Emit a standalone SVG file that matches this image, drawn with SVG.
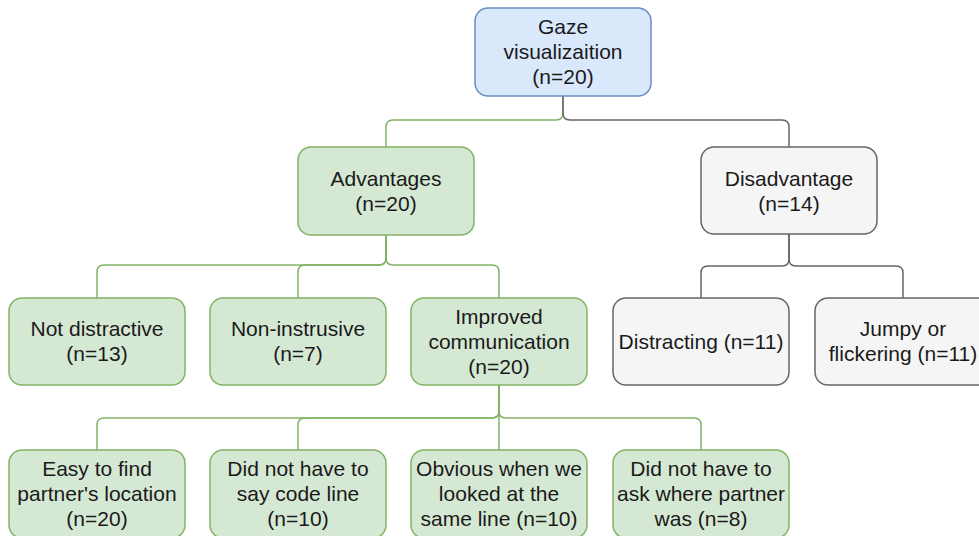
<svg xmlns="http://www.w3.org/2000/svg" width="979" height="536" viewBox="0 0 979 536">
  <style>
    .box { stroke-width: 1.5; }
    .blue { fill: #dae8fc; stroke: #6c8ebf; }
    .green { fill: #d5e8d4; stroke: #82b366; }
    .gray { fill: #f5f5f5; stroke: #666666; }
    .edge { fill: none; stroke-width: 1.5; }
    .eg { stroke: #82b366; }
    .ey { stroke: #666666; }
    text { font-family: "Liberation Sans", Arial, Helvetica, sans-serif; font-size: 21px; fill: #1a1a1a; text-anchor: middle; }
  </style>
  <rect width="979" height="536" fill="#ffffff"/>

  <!-- connectors -->
  <g id="connectors">
    <path class="edge eg" d="M563,96 V113 Q563,120 556,120 H393 Q386,120 386,127 V147"/>
    <path class="edge ey" d="M563,96 V113 Q563,120 570,120 H782 Q789,120 789,127 V147"/>
    <path class="edge eg" d="M386,235 V258 Q386,265 379,265 H104 Q97,265 97,272 V298"/>
    <path class="edge eg" d="M386,235 V258 Q386,265 379,265 H305 Q298,265 298,272 V298"/>
    <path class="edge eg" d="M386,235 V258 Q386,265 393,265 H492 Q499,265 499,272 V298"/>
    <path class="edge ey" d="M789,234 V259 Q789,266 782,266 H708 Q701,266 701,273 V298"/>
    <path class="edge ey" d="M789,234 V259 Q789,266 796,266 H896 Q903,266 903,273 V298"/>
    <path class="edge eg" d="M499,385 V411 Q499,418 492,418 H104 Q97,418 97,425 V450"/>
    <path class="edge eg" d="M499,385 V411 Q499,418 492,418 H305 Q298,418 298,425 V450"/>
    <path class="edge eg" d="M499,385 V450"/>
    <path class="edge eg" d="M499,385 V411 Q499,418 506,418 H694 Q701,418 701,425 V450"/>
  </g>

  <!-- root -->
  <g id="gaze">
    <rect class="box blue" x="475" y="8" width="176" height="88" rx="13"/>
    <text x="563" y="34">Gaze</text>
    <text x="563" y="59">visualizaition</text>
    <text x="563" y="84">(n=20)</text>
  </g>

  <!-- second level -->
  <g id="advantages">
    <rect class="box green" x="298" y="147" width="176" height="88" rx="13"/>
    <text x="386" y="186">Advantages</text>
    <text x="386" y="211">(n=20)</text>
  </g>
  <g id="disadvantage">
    <rect class="box gray" x="701" y="147" width="176" height="87" rx="13"/>
    <text x="789" y="186">Disadvantage</text>
    <text x="789" y="211">(n=14)</text>
  </g>

  <!-- third level -->
  <g id="not-distractive">
    <rect class="box green" x="9" y="298" width="176" height="87" rx="13"/>
    <text x="97" y="336">Not distractive</text>
    <text x="97" y="361">(n=13)</text>
  </g>
  <g id="non-intrusive">
    <rect class="box green" x="210" y="298" width="176" height="87" rx="13"/>
    <text x="298" y="336">Non-instrusive</text>
    <text x="298" y="361">(n=7)</text>
  </g>
  <g id="improved-communication">
    <rect class="box green" x="411" y="298" width="176" height="87" rx="13"/>
    <text x="499" y="324">Improved</text>
    <text x="499" y="349">communication</text>
    <text x="499" y="374">(n=20)</text>
  </g>
  <g id="distracting">
    <rect class="box gray" x="613" y="298" width="176" height="87" rx="13"/>
    <text x="701" y="349">Distracting (n=11)</text>
  </g>
  <g id="jumpy">
    <rect class="box gray" x="815" y="298" width="176" height="87" rx="13"/>
    <text x="903" y="336">Jumpy or</text>
    <text x="903" y="361">flickering (n=11)</text>
  </g>

  <!-- fourth level -->
  <g id="partner-location">
    <rect class="box green" x="9" y="450" width="176" height="88" rx="13"/>
    <text x="97" y="476">Easy to find</text>
    <text x="97" y="501">partner's location</text>
    <text x="97" y="526">(n=20)</text>
  </g>
  <g id="code-line">
    <rect class="box green" x="210" y="450" width="176" height="88" rx="13"/>
    <text x="298" y="476">Did not have to</text>
    <text x="298" y="501">say code line</text>
    <text x="298" y="526">(n=10)</text>
  </g>
  <g id="same-line">
    <rect class="box green" x="411" y="450" width="176" height="88" rx="13"/>
    <text x="499" y="476">Obvious when we</text>
    <text x="499" y="501">looked at the</text>
    <text x="499" y="526">same line (n=10)</text>
  </g>
  <g id="ask-where">
    <rect class="box green" x="613" y="450" width="176" height="88" rx="13"/>
    <text x="701" y="476">Did not have to</text>
    <text x="701" y="501">ask where partner</text>
    <text x="701" y="526">was (n=8)</text>
  </g>
</svg>
